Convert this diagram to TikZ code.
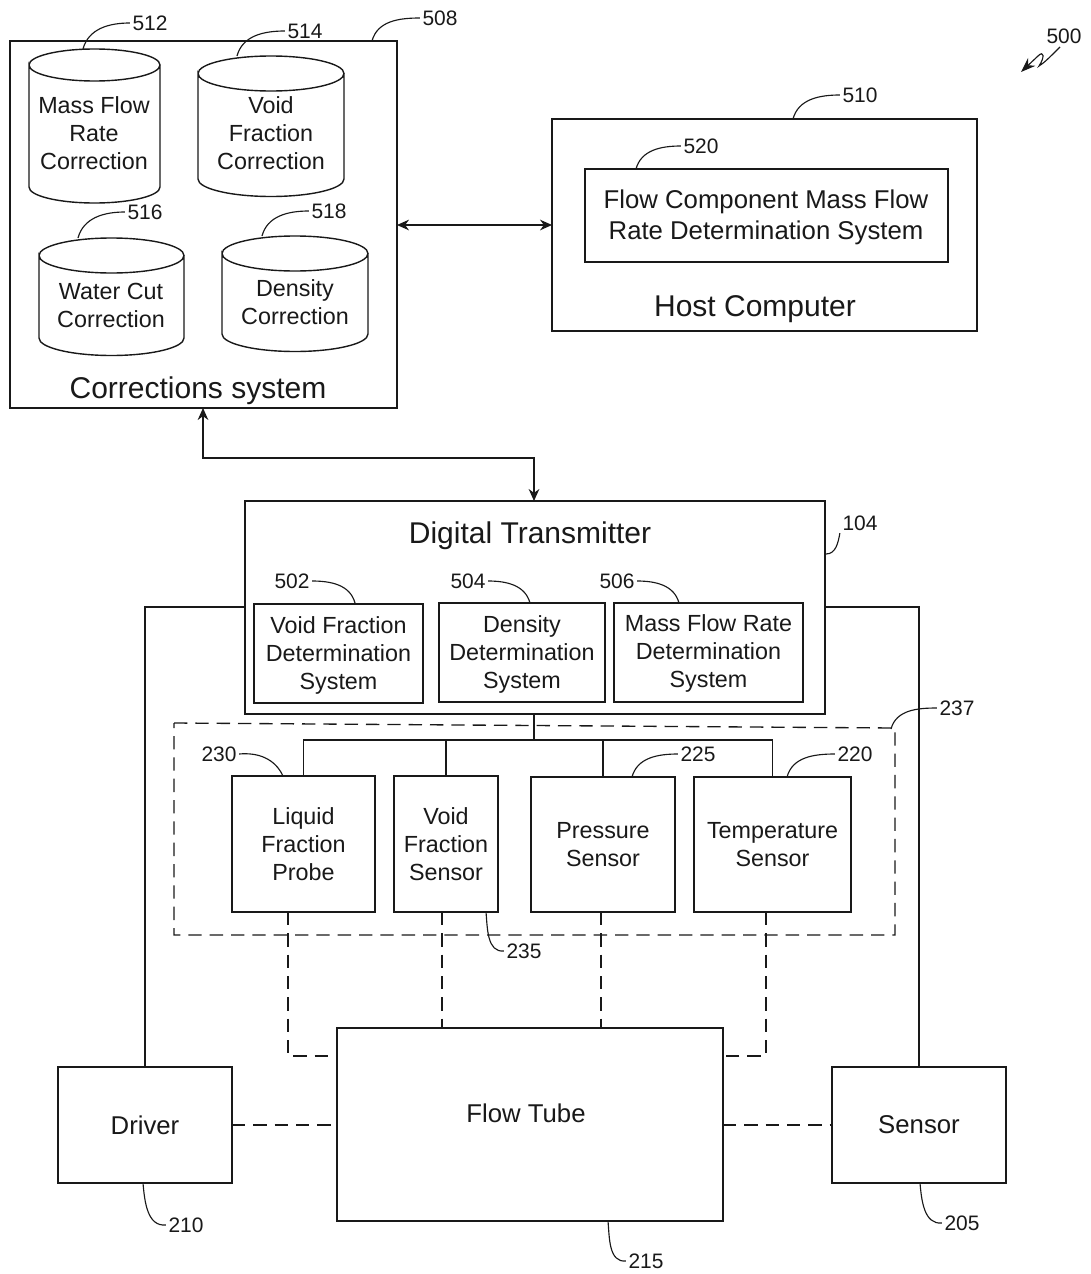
\documentclass[tikz,border=0pt]{standalone}
\usepackage{fontspec}
\setmainfont{Liberation Sans}
\usetikzlibrary{arrows.meta,calc}
\definecolor{ink}{gray}{0.1}
\tikzset{
  every node/.style={text=ink},
  boxx/.style={draw=ink,line width=1.1pt,inner sep=0pt,outer sep=0pt,align=center,font=\fontsize{17.5}{21}\selectfont},
  txt/.style={inner sep=0pt,outer sep=0pt,align=center,font=\fontsize{17.5}{21}\selectfont},
  big/.style={inner sep=0pt,align=center,font=\fontsize{22.5}{27}\selectfont},
  mid/.style={boxx,font=\fontsize{19.3}{23.2}\selectfont},
  midt/.style={txt,font=\fontsize{19.3}{23.2}\selectfont},
  lab/.style={inner sep=0pt,outer sep=2pt,font=\fontsize{15.7}{18}\selectfont},
  ldr/.style={draw=ink,line width=.85pt},
  wire/.style={draw=ink,line width=1.05pt},
  dsh/.style={draw=ink,line width=1pt,dash pattern=on 10pt off 6pt},
  dbl/.style={wire,{Stealth[length=9pt,width=8pt]}-{Stealth[length=9pt,width=8pt]}},
}
% name x1 y1 x2 y2 text [style]
\newcommand\bx[7][boxx]{%
  \pgfmathsetmacro\bw{(#5-#3)*.75}\pgfmathsetmacro\bh{(#6-#4)*.75}%
  \node[#1,minimum width=\bw pt,minimum height=\bh pt] (#2) at ({(#3+#5)/2},{(#4+#6)/2}) {#7};}
% name x1 x2 ytop(ellipse centre) ry ybottom(side end) text-x text-y text
\newcommand\cyl[9]{%
  \pgfmathsetmacro\rx{(#3-#2)/2}\pgfmathsetmacro\rxp{\rx*.75}\pgfmathsetmacro\ryp{#5*.75}%
  \draw[wire] (#2,#4) arc[start angle=180,end angle=0,x radius=\rxp pt,y radius=\ryp pt]
     arc[start angle=0,end angle=-180,x radius=\rxp pt,y radius=\ryp pt] -- (#2,#6)
     arc[start angle=180,end angle=360,x radius=\rxp pt,y radius=\ryp pt] -- (#3,#4);
  \node[txt] (#1) at (#7,#8) {#9};}
% label-node anchor endx endy out in
\newcommand\ldrto[6]{\coordinate (e#1) at (#3,#4);\draw[ldr] (#1.#2) to[out=#5,in=#6] (e#1);}
\begin{document}
\begin{tikzpicture}[x=.75pt,y=-.75pt]
\useasboundingbox[fill=white] (0,0) rectangle (1090,1274);
% corrections system
\bx{corr}{10}{41}{397}{408}{}
\cyl{c512}{29}{160}{65}{16}{187}{94}{133}{Mass Flow\\Rate\\Correction}
\cyl{c514}{198}{344}{73.5}{17.5}{179}{271}{133.5}{Void\\Fraction\\Correction}
\cyl{c516}{39}{184}{255.5}{17.5}{338}{111}{305}{Water Cut\\Correction}
\cyl{c518}{222}{368}{253.5}{17.5}{334}{295}{302}{Density\\Correction}
\node[big] (corrT) at (198,391) {Corrections system};
% host
\bx{host}{552}{119}{977}{331}{}
\bx{fcm}{585}{169}{948}{262}{}
\node[midt] (fcmT) at (766,217) {Flow Component Mass Flow\\Rate Determination System};
\node[big] (hostT) at (755,309) {Host Computer};
% transmitter
\bx{dt}{245}{501}{825}{714}{}
\node[big] (dtT) at (530,536) {Digital Transmitter};
\bx{vfd}{254}{604}{423}{703}{}
\node[txt] (vfdT) at (338.5,655) {Void Fraction\\Determination\\System};
\bx{dd}{439}{603}{605}{702}{}
\node[txt] (ddT) at (522,654) {Density\\Determination\\System};
\bx{mfd}{614}{603}{803}{702}{}
\node[txt] (mfdT) at (708.5,653.5) {Mass Flow Rate\\Determination\\System};
% sensors
\coordinate (dA) at (174,723);\coordinate (dB) at (895,728);\coordinate (dC) at (895,935);\coordinate (dD) at (174,935);
\draw[dsh] (dA) -- (dB) -- (dC) -- (dD) -- cycle;
\bx{lfp}{232}{776}{375}{912}{Liquid\\Fraction\\Probe}
\bx{vfs}{394}{776}{498}{912}{Void\\Fraction\\Sensor}
\bx{ps}{531}{777}{675}{912}{Pressure\\Sensor}
\bx{ts}{694}{777}{851}{912}{Temperature\\Sensor}
% bottom
\bx{ft}{337}{1028}{723}{1221}{}
\node[inner sep=0pt,font=\fontsize{19.3}{23}\selectfont] (ftT) at (526,1113) {Flow Tube};
\bx[mid]{drv}{58}{1067}{232}{1183}{Driver}
\bx[mid]{sen}{832}{1067}{1006}{1183}{Sensor}
% connectors
\draw[dbl] (corr.east |- 0,225) -- (host.west |- 0,225);
\draw[dbl] (corr.south -| 203,0) -- (203,458) -- (534,458) -- (dt.north -| 534,0);
\coordinate (bus) at (534,740);
\draw[wire] (dt.south -| bus) -- (bus);
\draw[wire] (lfp.north) |- (ts.north |- bus) -- (ts.north);
\draw[wire] (vfs.north) -- (vfs.north |- bus);
\draw[wire] (ps.north) -- (ps.north |- bus);
\draw[wire] (dt.west |- 0,607) -| (drv.north);
\draw[wire] (dt.east |- 0,607) -| (sen.north);
\draw[dsh] (lfp.south -| 288,0) -- (288,1056) -- (ft.west |- 0,1056);
\draw[dsh] (vfs.south -| 442,0) -- (ft.north -| 442,0);
\draw[dsh] (ps.south -| 601,0) -- (ft.north -| 601,0);
\draw[dsh] (ts.south -| 766,0) -- (766,1056) -- (ft.east |- 0,1056);
\draw[dsh] (drv.east) -- (ft.west |- drv.east);
\draw[dsh] (ft.east |- sen.west) -- (sen.west);
% labels
\node[lab] (n512) at (150,23) {512};
\node[lab] (n514) at (305,31) {514};
\node[lab] (n516) at (145,212) {516};
\node[lab] (n518) at (329,211) {518};
\node[lab] (n508) at (440,18) {508};
\node[lab] (n510) at (860,95) {510};
\node[lab] (n520) at (701,146) {520};
\node[lab] (n500) at (1064,36) {500};
\node[lab] (n104) at (860,523) {104};
\node[lab] (n502) at (292,581) {502};
\node[lab] (n504) at (468,581) {504};
\node[lab] (n506) at (617,581) {506};
\node[lab] (n230) at (219,754) {230};
\node[lab] (n225) at (698,754) {225};
\node[lab] (n220) at (855,754) {220};
\node[lab] (n237) at (957,708) {237};
\node[lab] (n235) at (524,951) {235};
\node[lab] (n210) at (186,1225) {210};
\node[lab] (n205) at (962,1223) {205};
\node[lab] (n215) at (646,1261) {215};
% leaders
\ldrto{n512}{west}{83}{49}{180}{75}
\ldrto{n514}{west}{237}{56}{180}{75}
\ldrto{n516}{west}{78}{238}{180}{75}
\ldrto{n518}{west}{262}{236}{180}{75}
\ldrto{n508}{west}{372}{41}{180}{75}
\ldrto{n510}{west}{793}{119}{180}{75}
\ldrto{n520}{west}{636}{169}{180}{75}
\ldrto{n104}{south west}{826}{554}{-100}{0}
\ldrto{n502}{east}{355}{603}{0}{105}
\ldrto{n504}{east}{530}{603}{0}{105}
\ldrto{n506}{east}{679}{603}{0}{105}
\ldrto{n230}{east}{283}{776}{5}{115}
\ldrto{n225}{west}{632}{777}{180}{75}
\ldrto{n220}{west}{787}{777}{180}{75}
\ldrto{n237}{west}{891}{729}{180}{75}
\ldrto{n235}{west}{486}{912}{185}{-85}
\ldrto{n210}{west}{143}{1183}{185}{-85}
\ldrto{n205}{west}{920}{1183}{185}{-85}
\ldrto{n215}{west}{608}{1221}{185}{-85}
% 500 squiggle
\coordinate (arr) at (1021,72);
\draw[ldr,-{Stealth[length=11pt,width=8pt]}] (1060,47) .. controls (1050,57) and (1044,63) .. (1039,66)
   .. controls (1045,57) and (1044,50) .. (1038,56) -- (arr);
\end{tikzpicture}
\end{document}
